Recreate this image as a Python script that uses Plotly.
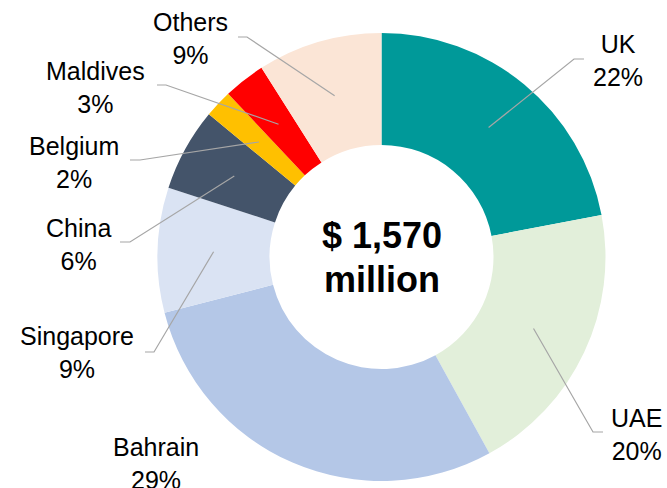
import math
import plotly.graph_objects as go

# Share of total by destination (percent)
countries = ["UK", "UAE", "Bahrain", "Singapore", "China", "Belgium", "Maldives", "Others"]
shares = [22, 20, 29, 9, 6, 2, 3, 9]
colors = ["#009999", "#E2EFDA", "#B4C7E7", "#DAE3F3", "#44546A", "#FFC000", "#FF0000", "#FBE5D6"]
total_text = ["$ 1,570", "million"]

W, H = 667, 488
CX, CY = 381.5, 257.0      # donut centre, px
R_OUT = 224.0
HOLE = 0.5

# Label block centres and leader elbows/ends (px); None = no leader line
label_pos = {
    "UK": (618, 60), "UAE": (636, 434), "Bahrain": (156, 463), "Singapore": (77, 352),
    "China": (78, 244), "Belgium": (74, 162), "Maldives": (96, 87), "Others": (190, 38),
}
leader = {
    "UK": [(574, 59), (584, 59)],
    "UAE": [(593, 432), (603, 432)],
    "Bahrain": None,
    "Singapore": [(154, 352), (145, 352)],
    "China": [(130, 242), (120, 242)],
    "Belgium": [(140, 160), (130, 160)],
    "Maldives": [(166, 85), (157, 85)],
    "Others": [(247, 37), (238, 37)],
}


def px(x, y):
    return x / W, 1 - y / H


fig = go.Figure(go.Pie(
    labels=countries, values=shares, sort=False, direction="clockwise", rotation=0,
    hole=HOLE, marker=dict(colors=colors, line=dict(width=0)),
    textinfo="none", hoverinfo="label+percent", showlegend=False,
    domain=dict(x=[(CX - R_OUT) / W, (CX + R_OUT) / W],
                y=[(H - CY - R_OUT) / H, (H - CY + R_OUT) / H]),
))

shapes, annotations = [], []
tot = sum(shares)
cum = 0
r_mid = R_OUT * (1 + HOLE) / 2
for name, v in zip(countries, shares):
    mid = (cum + v / 2) / tot * 2 * math.pi
    cum += v
    sx = CX + r_mid * math.sin(mid)
    sy = CY - r_mid * math.cos(mid)
    if leader[name]:
        pts = [(sx, sy)] + leader[name]
        path = "M " + " L ".join(f"{px(x, y)[0]:.5f},{px(x, y)[1]:.5f}" for x, y in pts)
        shapes.append(dict(type="path", xref="paper", yref="paper", path=path,
                           line=dict(color="#A6A6A6", width=1.2)))
    lx, ly = label_pos[name]
    ax, ay = px(lx, ly)
    annotations.append(dict(
        x=ax, y=ay, xref="paper", yref="paper", xanchor="center", yanchor="middle",
        text=f"{name}<br>{round(v / tot * 100)}%", showarrow=False, align="center",
        font=dict(family="Liberation Sans, Arial, sans-serif", size=25, color="#000000"),
    ))

for txt, yy in zip(total_text, [235, 279]):
    ax, ay = px(CX, yy)
    annotations.append(dict(
        x=ax, y=ay, xref="paper", yref="paper", xanchor="center", yanchor="middle",
        text=f"<b>{txt}</b>", showarrow=False,
        font=dict(family="Liberation Sans, Arial, sans-serif", size=36, color="#000000"),
    ))

fig.update_layout(
    width=W, height=H, autosize=False,
    margin=dict(l=0, r=0, t=0, b=0),
    paper_bgcolor="white", plot_bgcolor="white",
    shapes=shapes, annotations=annotations,
)

fig.write_html("out.html", config={"displayModeBar": False})
